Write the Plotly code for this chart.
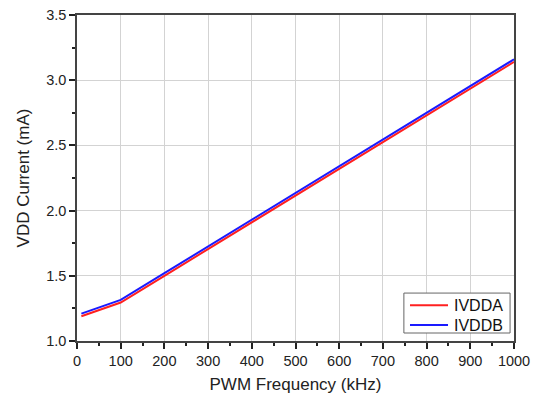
import plotly.graph_objects as go

# PWM frequency sweep (kHz) and measured supply currents (mA)
freq_khz = [10, 100, 200, 300, 400, 500, 600, 700, 800, 900, 1000]
ivdda_ma = [1.19, 1.295, 1.50, 1.705, 1.91, 2.115, 2.32, 2.525, 2.73, 2.935, 3.14]
ivddb_ma = [1.21, 1.315, 1.52, 1.725, 1.93, 2.135, 2.34, 2.545, 2.75, 2.955, 3.16]

series_names = ["IVDDA", "IVDDB"]
series_colors = ["#ff2020", "#1a1aff"]

x_ticks = list(range(0, 1001, 100))
y_ticks = [1.0, 1.5, 2.0, 2.5, 3.0, 3.5]

font_family = "Liberation Sans, Arial, sans-serif"
axis_color = "#444444"
grid_color = "#d3d3d3"

fig = go.Figure()
for name, ys, color in zip(series_names, [ivdda_ma, ivddb_ma], series_colors):
    fig.add_trace(go.Scatter(x=freq_khz, y=ys, mode="lines", name=name,
                             line=dict(color=color, width=2), showlegend=False))

# Boxed legend in the lower-right corner of the plot area
fig.add_shape(type="rect", xref="x domain", yref="y domain",
              x0=0.748, x1=0.991, y0=0.0245, y1=0.147,
              line=dict(color="#666666", width=1), fillcolor="white", layer="above")
for i, (name, color) in enumerate(zip(series_names, series_colors)):
    yc = 0.110 - i * 0.0613
    fig.add_shape(type="line", xref="x domain", yref="y domain",
                  x0=0.762, x1=0.849, y0=yc, y1=yc,
                  line=dict(color=color, width=2), layer="above")
    fig.add_annotation(xref="x domain", yref="y domain", x=0.858, y=yc,
                       text=name, showarrow=False, xanchor="left", yanchor="middle",
                       font=dict(size=16, color="#111111"))

fig.update_layout(
    width=538, height=395,
    margin=dict(l=77, r=24, t=15, b=54, autoexpand=False),
    paper_bgcolor="white", plot_bgcolor="white",
    font=dict(family=font_family, size=14, color="#222222"),
    showlegend=False,
)

fig.update_xaxes(
    range=[0, 1000], tickmode="array", tickvals=x_ticks,
    ticktext=[str(v) for v in x_ticks],
    showgrid=True, gridcolor=grid_color, gridwidth=1,
    showline=True, linecolor=axis_color, linewidth=1.5, mirror=True,
    ticks="outside", ticklen=6, tickwidth=1.5, tickcolor="#222222",
    minor=dict(ticks="outside", ticklen=3, tickwidth=1.5, tickcolor="#222222",
               dtick=50, showgrid=False),
    zeroline=False, automargin=False,
    title=dict(text="PWM Frequency (kHz)", font=dict(size=17), standoff=10),
    tickfont=dict(size=14.5),
)
fig.update_yaxes(
    range=[1.0, 3.5], tickmode="array", tickvals=y_ticks,
    ticktext=[f"{v:.1f}" for v in y_ticks],
    showgrid=True, gridcolor=grid_color, gridwidth=1,
    showline=True, linecolor=axis_color, linewidth=1.5, mirror=True,
    ticks="outside", ticklen=6, tickwidth=1.5, tickcolor="#222222",
    minor=dict(ticks="outside", ticklen=3, tickwidth=1.5, tickcolor="#222222",
               dtick=0.25, tick0=1.0, showgrid=False),
    zeroline=False, automargin=False,
    title=dict(text="VDD Current (mA)", font=dict(size=17), standoff=12),
    tickfont=dict(size=14.5),
)

fig.write_html("out.html")
